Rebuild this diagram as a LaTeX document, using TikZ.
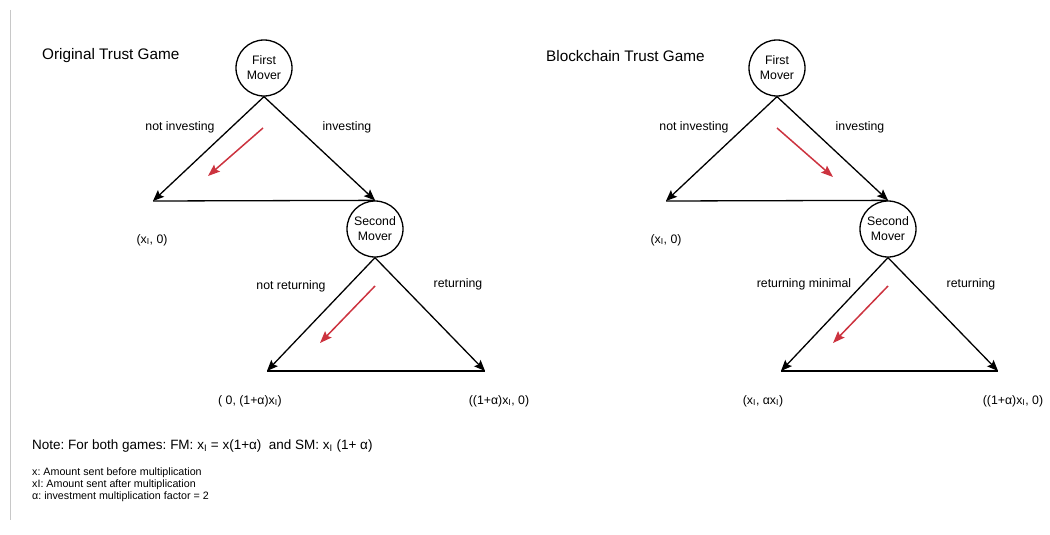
\documentclass[tikz,border=0pt]{standalone}
\usepackage{fontspec}
\setmainfont{Liberation Sans}
\usetikzlibrary{arrows.meta}
\definecolor{redarrow}{RGB}{204,51,63}
\definecolor{sideline}{RGB}{200,200,200}
\newcommand{\xsub}{x\textsubscript{I}}
\frenchspacing
\begin{document}
\begin{tikzpicture}[x=1pt,y=-1pt,
  player/.style={circle,draw,line width=1.3pt,minimum size=56pt,inner sep=0pt,align=center,font=\fontsize{12.3}{15}\selectfont},
  branch/.style={line width=1.3pt,-{Stealth[length=11pt,width=9pt,inset=2pt]}},
  base/.style={line width=1.3pt},
  hint/.style={line width=1.5pt,redarrow,-{Stealth[length=12pt,width=9pt,inset=2pt]}},
  lbl/.style={font=\fontsize{12.3}{14}\selectfont,inner sep=0pt},
  title/.style={font=\fontsize{15.3}{18}\selectfont,inner sep=0pt,anchor=west},
  small/.style={font=\fontsize{10.7}{12}\selectfont,inner sep=0pt,anchor=west}]
\useasboundingbox (0,0) rectangle (1050,535);
\draw[sideline,line width=1pt] (10,10) -- (10,520);

% ---------- Original Trust Game ----------
\node[title] (t1) at (42,56) {Original Trust Game};
\node[player] (fm1) at (264,68) {First\\Mover};
\node[player] (sm1) at (375,229) {Second\\Mover};
\coordinate (l1) at (153,201);
\coordinate (l2) at (267,371);
\coordinate (r2) at (485,371);
\draw[base] (l1) -- (sm1.north);
\draw[branch] (fm1.south) -- (l1);
\draw[branch] (fm1.south) -- (sm1.north);
\draw[base] (l2) -- (r2);
\draw[branch] (sm1.south) -- (l2);
\draw[branch] (sm1.south) -- (r2);
\coordinate (a1s) at (263,128); \coordinate (a1e) at (208,176);
\draw[hint] (a1s) -- (a1e);
\coordinate (a2s) at (375,286); \coordinate (a2e) at (320,343);
\draw[hint] (a2s) -- (a2e);
\node[lbl] (n1a) at (180,127) {not investing};
\node[lbl] (n1b) at (347,127) {investing};
\node[lbl] (p1a) at (152,240) {(\xsub, 0)};
\node[lbl] (n1c) at (291,286) {not returning};
\node[lbl] (n1d) at (458,284) {returning};
\node[lbl] (p1b) at (250,401) {( 0, (1+α)\xsub)};
\node[lbl] (p1c) at (499,401) {((1+α)\xsub, 0)};

% ---------- Blockchain Trust Game ----------
\node[title] (t2) at (546,56) {Blockchain Trust Game};
\node[player] (fm2) at (777,68) {First\\Mover};
\node[player] (sm2) at (888,229) {Second\\Mover};
\coordinate (l3) at (666,201);
\coordinate (l4) at (781,371);
\coordinate (r4) at (998,371);
\draw[base] (l3) -- (sm2.north);
\draw[branch] (fm2.south) -- (l3);
\draw[branch] (fm2.south) -- (sm2.north);
\draw[base] (l4) -- (r4);
\draw[branch] (sm2.south) -- (l4);
\draw[branch] (sm2.south) -- (r4);
\coordinate (a3s) at (777,128); \coordinate (a3e) at (833,177);
\draw[hint] (a3s) -- (a3e);
\coordinate (a4s) at (888,286); \coordinate (a4e) at (833,343);
\draw[hint] (a4s) -- (a4e);
\node[lbl] (n2a) at (694,127) {not investing};
\node[lbl] (n2b) at (860,127) {investing};
\node[lbl] (p2a) at (666,240) {(\xsub, 0)};
\node[lbl] (n2c) at (804,284) {returning minimal};
\node[lbl] (n2d) at (971,284) {returning};
\node[lbl] (p2b) at (763,401) {(\xsub, α\xsub)};
\node[lbl] (p2c) at (1013,401) {((1+α)\xsub, 0)};

% ---------- Notes ----------
\node[font=\fontsize{13.5}{16}\selectfont,inner sep=0pt,anchor=west] (note) at (32,446) {Note: For both games: FM: \xsub{} = x(1+α)\ \ and SM: \xsub{} (1+ α)};
\node[small] (k1) at (32,473) {x: Amount sent before multiplication};
\node[small] (k2) at (32,485) {xI: Amount sent after multiplication};
\node[small] (k3) at (32,497) {α: investment multiplication factor = 2};
\end{tikzpicture}
\end{document}
